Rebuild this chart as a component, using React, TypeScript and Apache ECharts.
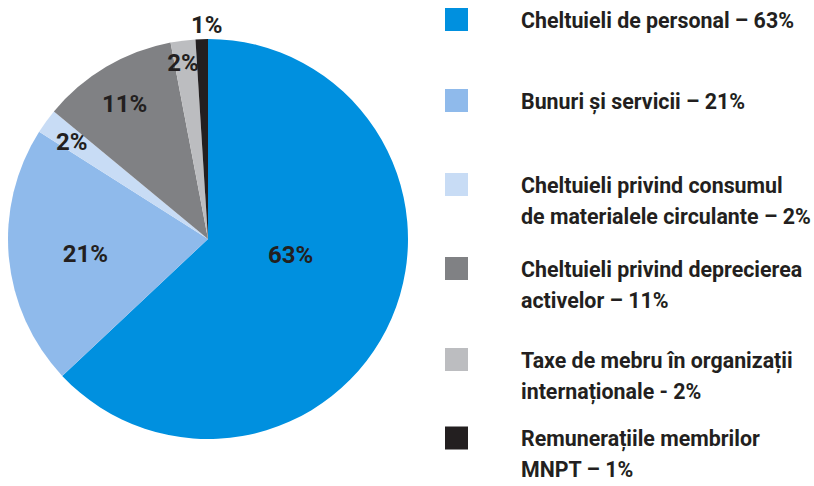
import React, { useEffect, useRef } from "react";
import * as echarts from "echarts";

const categories = [
  "Cheltuieli de personal – 63%",
  "Bunuri și servicii – 21%",
  "Cheltuieli privind consumul\nde materialele circulante – 2%",
  "Cheltuieli privind deprecierea\nactivelor – 11%",
  "Taxe de mebru în organizații\ninternaționale - 2%",
  "Remunerațiile membrilor\nMNPT – 1%",
];
const values = [63, 21, 2, 11, 2, 1];
const sliceLabels = ["63%", "21%", "2%", "11%", "2%", "1%"];
const colors = ["#0090df", "#8fbaeb", "#c8dcf5", "#808184", "#bcbdc0", "#231f20"];

// label layout tweaks (px offsets from the default inside position)
const labelOffsets: [number, number][] = [
  [-12, -25],
  [-20, 5],
  [-53, -36],
  [-31, -46],
  [-12, -74],
  [2, -111],
];
const legendY = [19.5, 100.5, 184.5, 268.5, 359.5, 438];

const FONT = "Roboto, 'DejaVu Sans Condensed', sans-serif";
const INK = "#231f20";

export default function App() {
  const ref = useRef<HTMLDivElement>(null);
  useEffect(() => {
    if (!ref.current) return;
    const chart = echarts.init(ref.current, null, { renderer: "svg" });
    const graphic: any[] = [];
    categories.forEach((c, i) => {
      graphic.push({
        type: "rect",
        shape: { x: 445, y: legendY[i] - 11.5, width: 23, height: 23 },
        style: { fill: colors[i] },
      });
      graphic.push({
        type: "text",
        x: 521,
        y: legendY[i] - 15.5,
        scaleX: 0.93,
        style: {
          text: c,
          fill: INK,
          font: `bold 23px ${FONT}`,
          lineHeight: 31,
          verticalAlign: "top",
          align: "left",
        },
      });
    });
    chart.setOption({
      animation: false,
      graphic,
      series: [
        {
          type: "pie",
          center: [208, 239],
          radius: [0, 200],
          startAngle: 90,
          clockwise: true,
          avoidLabelOverlap: false,
          label: {
            show: true,
            position: "inside",
            color: INK,
            fontFamily: FONT,
            fontWeight: "bold",
            fontSize: 24,
          },
          labelLine: { show: false },
          emphasis: { disabled: true },
          itemStyle: { borderWidth: 0 },
          data: values.map((v, i) => ({
            value: v,
            name: categories[i],
            itemStyle: { color: colors[i] },
            label: { formatter: sliceLabels[i], offset: labelOffsets[i] },
          })),
        },
      ],
    });
    return () => chart.dispose();
  }, []);
  return <div ref={ref} style={{ width: 814, height: 486, position: "absolute", left: 0, top: 0, background: "#fff" }} />;
}
